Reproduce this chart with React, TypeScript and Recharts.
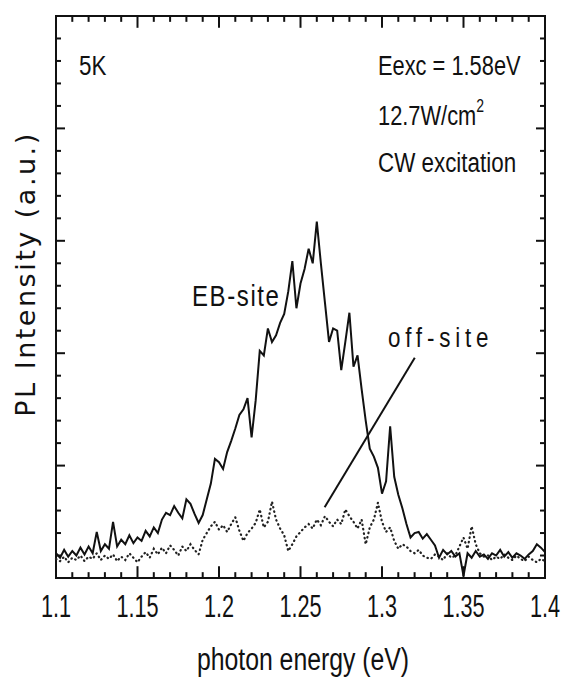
import { ComposedChart, Line, XAxis, YAxis, ReferenceLine, ReferenceArea } from 'recharts'

// photon energy grid (eV)
const ENERGY = [
  1.1, 1.1025, 1.105, 1.1075, 1.11, 1.1125, 1.115, 1.1175, 1.12, 1.1225,
  1.125, 1.1275, 1.13, 1.1325, 1.135, 1.1375, 1.14, 1.1425, 1.145, 1.1475,
  1.15, 1.1525, 1.155, 1.1575, 1.16, 1.1625, 1.165, 1.1675, 1.17, 1.1725,
  1.175, 1.1775, 1.18, 1.1825, 1.185, 1.1875, 1.19, 1.1925, 1.195, 1.1975,
  1.2, 1.2025, 1.205, 1.2075, 1.21, 1.2125, 1.215, 1.2175, 1.22, 1.2225,
  1.225, 1.2275, 1.23, 1.2325, 1.235, 1.2375, 1.24, 1.2425, 1.245, 1.2475,
  1.25, 1.2525, 1.255, 1.2575, 1.26, 1.2625, 1.265, 1.2675, 1.27, 1.2725,
  1.275, 1.2775, 1.28, 1.2825, 1.285, 1.2875, 1.29, 1.2925, 1.295, 1.2975,
  1.3, 1.3025, 1.305, 1.3075, 1.31, 1.3125, 1.315, 1.3175, 1.32, 1.3225,
  1.325, 1.3275, 1.33, 1.3325, 1.335, 1.3375, 1.34, 1.3425, 1.345, 1.3475,
  1.35, 1.3525, 1.355, 1.3575, 1.36, 1.3625, 1.365, 1.3675, 1.37, 1.3725,
  1.375, 1.3775, 1.38, 1.3825, 1.385, 1.3875, 1.39, 1.3925, 1.395, 1.3975,
  1.4,
]

// EB-site spectrum (solid)
const EB_SITE = [
  0.22, 0.18, 0.25, 0.19, 0.24, 0.2, 0.27, 0.21, 0.28, 0.22,
  0.41, 0.24, 0.3, 0.26, 0.5, 0.28, 0.34, 0.3, 0.38, 0.31,
  0.36, 0.33, 0.42, 0.37, 0.45, 0.4, 0.52, 0.58, 0.56, 0.64,
  0.58, 0.53, 0.7, 0.66, 0.57, 0.49, 0.56, 0.7, 0.84, 1.06,
  1.03, 0.97, 1.12, 1.22, 1.33, 1.45, 1.5, 1.6, 1.25, 1.58,
  2.02, 1.98, 2.22, 2.1, 2.16, 2.27, 2.35, 2.55, 2.82, 2.4,
  2.62, 2.75, 2.93, 2.8, 3.17, 2.8, 2.45, 2.1, 2.22, 2.2,
  1.85, 2.1, 2.36, 1.88, 1.98, 1.68, 1.4, 1.15, 1.08, 0.98,
  0.75, 0.86, 1.35, 0.9, 0.74, 0.62, 0.48, 0.36, 0.4, 0.41,
  0.35, 0.39, 0.34, 0.29, 0.18, 0.25, 0.21, 0.24, 0.19, 0.22,
  0.02, 0.22, 0.18, 0.24, 0.19, 0.21, 0.17, 0.22, 0.2, 0.25,
  0.19, 0.23, 0.18, 0.22, 0.2, 0.17, 0.21, 0.24, 0.3, 0.27,
  0.23,
]

// off-site spectrum (dotted)
const OFF_SITE = [
  0.17, 0.15, 0.19, 0.14, 0.18, 0.16, 0.2, 0.15, 0.19, 0.17,
  0.22, 0.16, 0.2, 0.17, 0.21, 0.15, 0.19, 0.16, 0.22, 0.18,
  0.14, 0.19, 0.23, 0.18, 0.26, 0.21, 0.27, 0.22, 0.29, 0.25,
  0.2, 0.28, 0.24, 0.3, 0.25, 0.21, 0.34, 0.4, 0.46, 0.5,
  0.43, 0.47, 0.41, 0.48, 0.54, 0.42, 0.33, 0.4, 0.44, 0.49,
  0.61, 0.45, 0.5, 0.68, 0.52, 0.44, 0.38, 0.24, 0.3, 0.37,
  0.41, 0.45, 0.48, 0.44, 0.52, 0.47, 0.55, 0.5, 0.46, 0.52,
  0.48, 0.61, 0.55, 0.5, 0.44, 0.52, 0.3, 0.45, 0.52, 0.67,
  0.5, 0.41, 0.45, 0.33, 0.26, 0.3, 0.28, 0.24, 0.22, 0.25,
  0.2, 0.18, 0.17, 0.21, 0.19, 0.16, 0.22, 0.18, 0.2, 0.28,
  0.36, 0.26, 0.46, 0.3, 0.22, 0.19, 0.2, 0.16, 0.19, 0.17,
  0.21, 0.18, 0.16, 0.2, 0.17, 0.15, 0.19, 0.16, 0.14, 0.17,
  0.15,
]

const X_TICKS = [
  1.1, 1.11, 1.12, 1.13, 1.14, 1.15, 1.16, 1.17, 1.18, 1.19, 1.2,
  1.21, 1.22, 1.23, 1.24, 1.25, 1.26, 1.27, 1.28, 1.29, 1.3,
  1.31, 1.32, 1.33, 1.34, 1.35, 1.36, 1.37, 1.38, 1.39, 1.4,
]
const X_LABELS = ['1.1', '1.15', '1.2', '1.25', '1.3', '1.35', '1.4']
const Y_TICKS = [
  0, 0.2, 0.4, 0.6, 0.8, 1, 1.2, 1.4, 1.6, 1.8, 2, 2.2, 2.4, 2.6, 2.8,
  3, 3.2, 3.4, 3.6, 3.8, 4, 4.2, 4.4, 4.6, 4.8, 5,
]

// pointer from the "off-site" label down to the dotted curve
const POINTER = [
  { x: 1.2648, y: 0.63 },
  { x: 1.3201, y: 1.96 },
]

const data = ENERGY.map((e, i) => ({ e, eb: EB_SITE[i], off: OFF_SITE[i] }))

const TOP = 16
const RIGHT = 545
const Y_MAX = 5
// inward x-tick lengths, in y units (about 12px / 6px)
const MAJOR_LEN = 0.105
const MINOR_LEN = 0.052

const SANS = "'Liberation Sans', Arial, sans-serif"
const INK = '#111'

const label = (v: number) => X_LABELS.find((l) => Math.abs(parseFloat(l) - v) < 1e-6)

// narrow-looking text: horizontally squeezed Liberation Sans
function Narrow({ x, y, size = 28, sx = 0.8, ls = 0, anchor = 'start', children }: any) {
  return (
    <text
      transform={`translate(${x} ${y}) scale(${sx} 1)`} textAnchor={anchor}
      fontFamily={SANS} fontSize={size} letterSpacing={ls} fill={INK} stroke="none"
    >
      {children}
    </text>
  )
}

function XTick({ x, y, payload }: any) {
  const text = label(payload.value)
  if (!text) return <g />
  return <Narrow x={x} y={y + 39} size={31} sx={0.7} anchor="middle">{text}</Narrow>
}

function YTick({ x, y, payload }: any) {
  const len = Number.isInteger(payload.value) ? 9 : 5
  return (
    <g>
      <line x1={x} x2={x + len} y1={y} y2={y} stroke={INK} strokeWidth={2} />
      <line x1={RIGHT} x2={RIGHT - len} y1={y} y2={y} stroke={INK} strokeWidth={2} />
    </g>
  )
}

export default function App() {
  return (
    <div style={{ position: 'absolute', left: 0, top: 0, width: 565, height: 681, background: '#fff' }}>
      <ComposedChart width={565} height={681} data={data} margin={{ top: TOP, right: 20, bottom: 43, left: 56 }}>
        <XAxis
          dataKey="e" type="number" domain={[1.1, 1.4]} ticks={X_TICKS} interval={0}
          height={60} tickSize={0} tickMargin={0} tickLine={false} axisLine={false} tick={<XTick />}
        />
        <YAxis
          type="number" mirror domain={[0, Y_MAX]} ticks={Y_TICKS} interval={0} width={2}
          tickSize={0} tickMargin={0} tickLine={false} axisLine={false} tick={<YTick />}
        />
        {X_TICKS.map((t) => {
          const len = label(t) ? MAJOR_LEN : MINOR_LEN
          return [
            <ReferenceLine key={`b${t}`} segment={[{ x: t, y: 0 }, { x: t, y: len }]} stroke={INK} strokeWidth={2} />,
            <ReferenceLine key={`t${t}`} segment={[{ x: t, y: Y_MAX }, { x: t, y: Y_MAX - len }]} stroke={INK} strokeWidth={2} />,
          ]
        })}
        <ReferenceArea x1={1.1} x2={1.4} y1={0} y2={Y_MAX} fill="none" stroke={INK} strokeWidth={2} />
        <Line
          dataKey="off" type="linear" stroke="#222" strokeWidth={2.2} strokeDasharray="0.5 4"
          strokeLinecap="round" dot={false} isAnimationActive={false}
        />
        <Line
          dataKey="eb" type="linear" stroke={INK} strokeWidth={2} dot={false} isAnimationActive={false}
        />
        <ReferenceLine segment={POINTER} stroke={INK} strokeWidth={2} />
      </ComposedChart>

      <svg width={565} height={681} style={{ position: 'absolute', left: 0, top: 0, pointerEvents: 'none' }}>
        <Narrow x={79} y={75}>5K</Narrow>
        <Narrow x={378} y={75} sx={0.78}>Eexc = 1.58eV</Narrow>
        <Narrow x={378} y={125} sx={0.78}>
          12.7W/cm<tspan dy={-13} fontSize={18}>2</tspan>
        </Narrow>
        <Narrow x={378} y={172}>CW excitation</Narrow>
        <Narrow x={192} y={306} size={30} ls={2}>EB-site</Narrow>
        <Narrow x={388} y={347} size={28} ls={6}>off-site</Narrow>
        <Narrow x={303} y={670} size={31} sx={0.8} anchor="middle">photon energy (eV)</Narrow>
        <text
          transform="translate(35 274) rotate(-90)" textAnchor="middle"
          fontFamily="'DejaVu Sans', sans-serif" fontSize={27} letterSpacing={2.5} fill={INK}
        >
          PL Intensity (a.u.)
        </text>
      </svg>
    </div>
  )
}
